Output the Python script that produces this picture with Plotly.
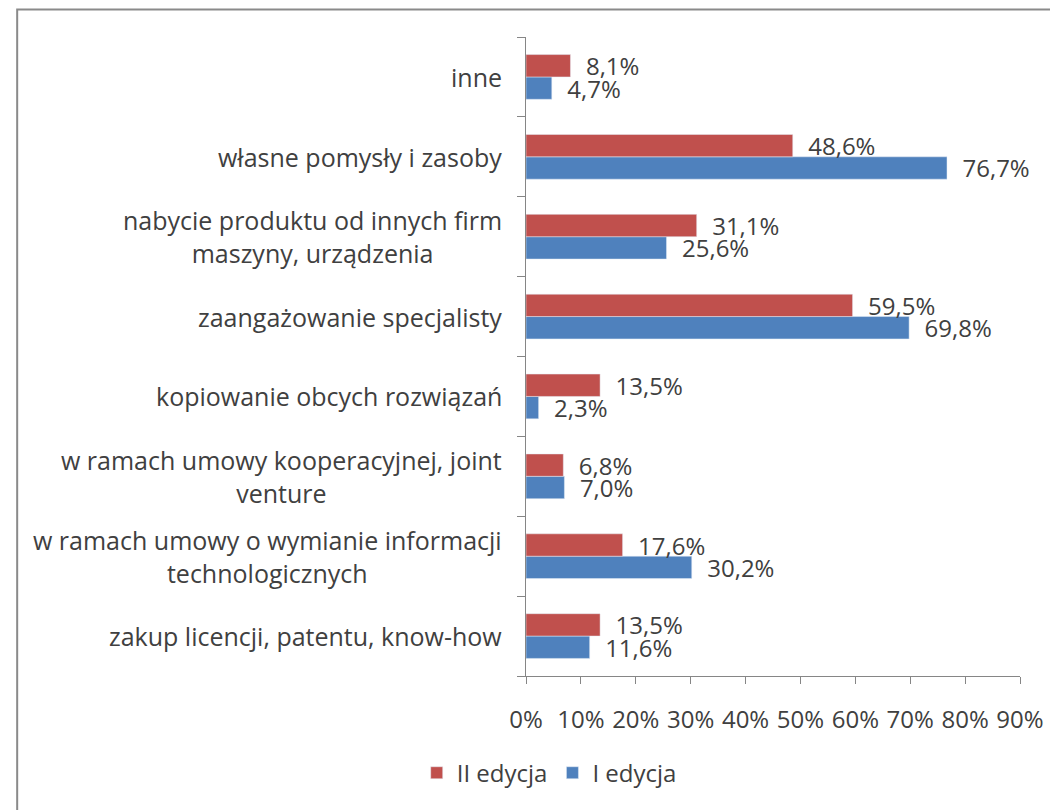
import plotly.graph_objects as go

# categories bottom -> top (as drawn)
categories = [
    "zakup licencji, patentu, know-how",
    "w ramach umowy o wymianie informacji<br>technologicznych",
    "w ramach umowy kooperacyjnej, joint<br>venture",
    "kopiowanie obcych rozwiązań",
    "zaangażowanie specjalisty",
    "nabycie produktu od innych firm<br>maszyny, urządzenia",
    "własne pomysły i zasoby",
    "inne",
]
edycja_2 = [13.5, 17.6, 6.8, 13.5, 59.5, 31.1, 48.6, 8.1]
edycja_1 = [11.6, 30.2, 7.0, 2.3, 69.8, 25.6, 76.7, 4.7]
x_ticks = [0, 10, 20, 30, 40, 50, 60, 70, 80, 90]
x_tick_text = [f"{v}%" for v in x_ticks]

RED = "#C0504D"
BLUE = "#4F81BD"
TXT = "#404040"
FONT = "Open Sans"
FS = 24

fig = go.Figure()
# blue first so the red bar sits above it in each group
fig.add_trace(go.Bar(
    y=categories, x=edycja_1, orientation="h", name="I edycja",
    marker=dict(color=BLUE),
    texttemplate="\u00a0\u00a0%{x:.1f}%", textposition="outside",
    constraintext="none", cliponaxis=False,
    textfont=dict(family=FONT, size=FS, color=TXT),
))
fig.add_trace(go.Bar(
    y=categories, x=edycja_2, orientation="h", name="II edycja",
    marker=dict(color=RED),
    texttemplate="\u00a0\u00a0%{x:.1f}%", textposition="outside",
    constraintext="none", cliponaxis=False,
    textfont=dict(family=FONT, size=FS, color=TXT),
))

# category labels, lines centred like in the original
for c in categories:
    fig.add_annotation(
        x=0, xref="paper", y=c, yref="y", text=c, showarrow=False,
        xanchor="right", xshift=-22, align="center",
        font=dict(family=FONT, size=25, color=TXT),
    )

fig.update_layout(
    width=1050, height=802,
    margin=dict(l=518, r=38, t=29, b=134),
    barmode="group", bargap=0.44, bargroupgap=0,
    separators=", ",
    plot_bgcolor="white", paper_bgcolor="white",
    font=dict(family=FONT, size=FS, color=TXT),
    showlegend=True,
    legend=dict(
        orientation="h", traceorder="reversed",
        x=0.047, xanchor="center", y=-0.152, yanchor="middle",
        font=dict(family=FONT, size=FS, color=TXT),
    ),
    shapes=[dict(
        type="rect", xref="paper", yref="paper",
        x0=-1.03, x1=1.3, y0=-0.4, y1=1.043,
        line=dict(color="#8a8a8a", width=2),
    )],
)
fig.update_xaxes(
    range=[0, 90], tickvals=x_ticks, ticktext=x_tick_text,
    showgrid=False, zeroline=False,
    showline=True, linecolor="#868686", linewidth=1,
    ticks="outside", ticklen=7, tickcolor="#868686",
    ticklabelstandoff=15,
    tickfont=dict(family=FONT, size=FS, color=TXT),
)
fig.update_yaxes(
    showticklabels=False, showgrid=False,
    showline=True, linecolor="#868686", linewidth=1,
    ticks="outside", ticklen=8, tickcolor="#868686",
    tickson="boundaries",
)

fig.write_html("out.html")
